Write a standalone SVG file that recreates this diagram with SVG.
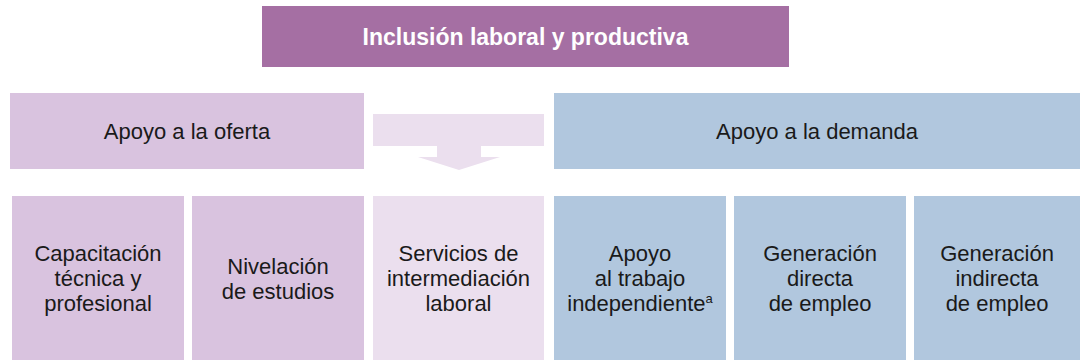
<svg xmlns="http://www.w3.org/2000/svg" width="1080" height="364" viewBox="0 0 1080 364">
<style>
text{font-family:"Liberation Sans",Arial,sans-serif;fill:#1a1a1a;text-anchor:middle}
.t{font-size:23px;font-weight:bold;fill:#ffffff}
.h{font-size:22px}
.b{font-size:22px}
.dark{fill:#A56FA3}
.lil{fill:#D9C3DF}
.pale{fill:#EBDFEE}
.blue{fill:#B1C7DE}
</style>
<rect width="1080" height="364" fill="#ffffff"/>
<g id="title"><rect class="dark" x="262" y="6" width="527" height="61"/><text class="t" x="525.5" y="45">Inclusión laboral y productiva</text></g>
<g id="oferta"><rect class="lil" x="10" y="93" width="354" height="76"/><text class="h" x="187" y="139">Apoyo a la oferta</text></g>
<g id="demanda"><rect class="blue" x="554" y="93" width="526" height="76"/><text class="h" x="817" y="139">Apoyo a la demanda</text></g>
<g id="connectors"><path class="pale" d="M373 114H544V146H481V157H500L459 170L418 157H437V146H373Z"/></g>
<g id="capacitacion"><rect class="lil" x="12" y="196" width="172" height="164"/><text class="b" x="98"><tspan x="98" y="261">Capacitación</tspan><tspan x="98" y="286">técnica y</tspan><tspan x="98" y="311">profesional</tspan></text></g>
<g id="nivelacion"><rect class="lil" x="192" y="196" width="172" height="164"/><text class="b" x="278"><tspan x="278" y="273.5">Nivelación</tspan><tspan x="278" y="298.5">de estudios</tspan></text></g>
<g id="servicios"><rect class="pale" x="373" y="196" width="171" height="164"/><text class="b" x="458.5"><tspan x="458.5" y="261">Servicios de</tspan><tspan x="458.5" y="286">intermediación</tspan><tspan x="458.5" y="311">laboral</tspan></text></g>
<g id="trabajo"><rect class="blue" x="554" y="196" width="172" height="164"/><text class="b" x="640"><tspan x="640" y="261">Apoyo</tspan><tspan x="640" y="286">al trabajo</tspan><tspan x="640" y="311">independiente<tspan font-size="13" dy="-8">a</tspan></tspan></text></g>
<g id="directa"><rect class="blue" x="734" y="196" width="172" height="164"/><text class="b" x="820"><tspan x="820" y="261">Generación</tspan><tspan x="820" y="286">directa</tspan><tspan x="820" y="311">de empleo</tspan></text></g>
<g id="indirecta"><rect class="blue" x="914" y="196" width="166" height="164"/><text class="b" x="997"><tspan x="997" y="261">Generación</tspan><tspan x="997" y="286">indirecta</tspan><tspan x="997" y="311">de empleo</tspan></text></g>
</svg>
